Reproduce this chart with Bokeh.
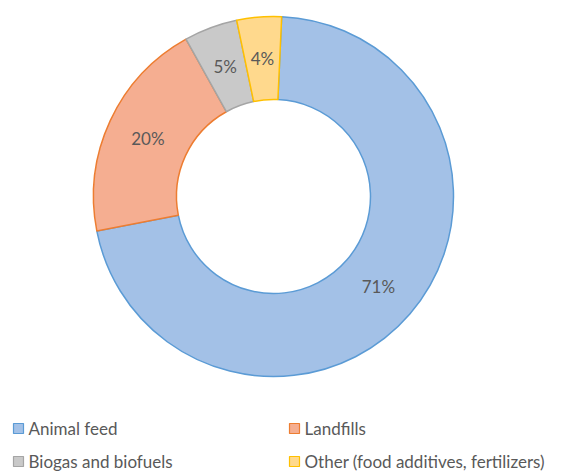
import numpy as np
from bokeh.plotting import figure
from bokeh.models import Range1d, ColumnDataSource
from bokeh.core.properties import value
from bokeh.embed import file_html
from bokeh.resources import INLINE

# ---- data ----
categories = ["Animal feed", "Landfills", "Biogas and biofuels",
              "Other (food additives, fertilizers)"]
shares = [71.2, 20.0, 4.8, 4.0]
labels = ["71%", "20%", "5%", "4%"]
fill_colors = ["#a3c1e7", "#f5ae91", "#c9c9c9", "#ffd98d"]
line_colors = ["#5b9bd5", "#ed7d31", "#a5a5a5", "#ffc000"]

# ---- layout ----
W, H = 561, 473
p = figure(width=W, height=H, x_range=Range1d(0, W), y_range=Range1d(0, H),
           output_backend="svg", toolbar_location=None, min_border=0,
           x_axis_location=None, y_axis_location=None)
p.grid.visible = False
p.outline_line_color = None

cx, cy = 273, H - 196
r_out, r_in = 180, 97
offset = 2.6  # degrees clockwise from 12 o'clock

cum = offset + np.cumsum([0] + shares) / sum(shares) * 360.0
start = np.radians(90 - cum[:-1])
end = np.radians(90 - cum[1:])
mid = np.radians((cum[:-1] + cum[1:]) / 2)
r_mid = (r_out + r_in) / 2

src = ColumnDataSource(dict(
    start=start, end=end, fill=fill_colors, line=line_colors,
    lx=cx + r_mid * np.sin(mid), ly=cy + r_mid * np.cos(mid), lab=labels,
))

p.annular_wedge(x=cx, y=cy, inner_radius=r_in, outer_radius=r_out,
                start_angle="start", end_angle="end", direction="clock",
                fill_color="fill", line_color="line", line_width=1.5,
                source=src)

p.text(x="lx", y="ly", text="lab", source=src, text_align="center",
       text_baseline="middle", text_color="#595959",
       text_font=value("Lato"), text_font_size="17px")

# ---- legend (manual) ----
col_x = [18, 294]
row_y = [H - 428, H - 461]
lg_x = [col_x[i % 2] for i in range(len(categories))]
lg_y = [row_y[i // 2] for i in range(len(categories))]
lsrc = ColumnDataSource(dict(x=lg_x, y=lg_y, tx=[x + 10 for x in lg_x],
                             name=categories, fill=fill_colors, line=line_colors))
p.scatter(x="x", y="y", marker="square", size=10, fill_color="fill",
          line_color="line", line_width=1.2, source=lsrc)
p.text(x="tx", y="y", text="name", source=lsrc, text_align="left",
       text_baseline="middle", text_color="#595959",
       text_font=value("Lato"), text_font_size="17px")

open("out.html", "w").write(file_html(p, INLINE))
